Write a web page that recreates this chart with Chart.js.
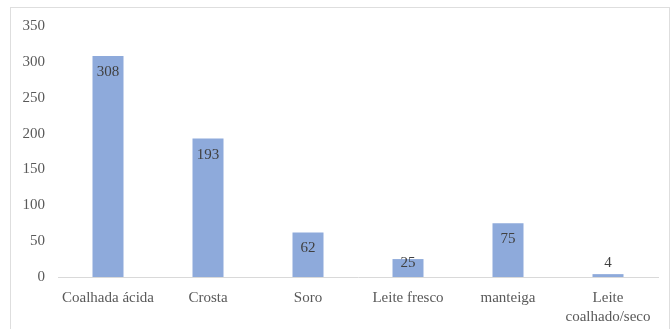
<!DOCTYPE html>
<html>
<head>
<meta charset="utf-8">
<script src="https://cdn.jsdelivr.net/npm/chart.js@4"></script>
<style>
  html, body { margin: 0; padding: 0; background: #fff; }
  #wrap { position: relative; width: 672px; height: 329px; }
  #frame { position: absolute; left: 10px; top: 7px; width: 660px; height: 330px; border: 1px solid #dedede; box-sizing: border-box; }
  #chart { position: absolute; left: 0; top: 0; }
</style>
</head>
<body>
<div id="wrap">
  <div id="frame"></div>
  <canvas id="chart" width="672" height="329"></canvas>
</div>
<script>
const categorias = ["Coalhada ácida", "Crosta", "Soro", "Leite fresco", "manteiga", ["Leite", "coalhado/seco"]];
const valores = [308, 193, 62, 25, 75, 4];
const yTicks = [0, 50, 100, 150, 200, 250, 300, 350];

const textColor = "#595959";
const fontFamily = "'Liberation Serif', serif";

// value labels at the inner end of each bar, pushed up when the bar is short
const valueLabels = {
    id: "valueLabels",
    afterDatasetsDraw(chart) {
        const ctx = chart.ctx;
        const meta = chart.getDatasetMeta(0);
        ctx.save();
        ctx.font = "15px " + fontFamily;
        ctx.fillStyle = "#404040";
        ctx.textAlign = "center";
        ctx.textBaseline = "middle";
        meta.data.forEach((bar, i) => {
            const y = Math.min(bar.y + 16, bar.base - 14);
            ctx.fillText(String(valores[i]), bar.x, y);
        });
        ctx.restore();
    }
};

new Chart(document.querySelector("#chart"), {
    type: "bar",
    data: {
        labels: categorias,
        datasets: [
            {
                data: valores,
                backgroundColor: "#8eaadb",
                barPercentage: 0.31,
                categoryPercentage: 1
            }
        ]
    },
    options: {
        responsive: false,
        animation: false,
        layout: { padding: { top: 26, right: 14, left: 0, bottom: 0 } },
        plugins: {
            legend: { display: false },
            tooltip: { enabled: false }
        },
        scales: {
            x: {
                grid: { display: false, drawTicks: false },
                border: { display: true, color: "#d9d9d9", width: 1 },
                ticks: {
                    color: textColor,
                    font: { family: fontFamily, size: 15, lineHeight: 1.3 },
                    padding: 11,
                    maxRotation: 0,
                    autoSkip: false
                },
                afterFit(scale) { scale.height = 52; }
            },
            y: {
                min: 0,
                max: 350,
                grid: { display: false, drawTicks: false },
                border: { display: false },
                afterBuildTicks(scale) { scale.ticks = yTicks.map(v => ({ value: v })); },
                ticks: {
                    color: textColor,
                    font: { family: fontFamily, size: 15 },
                    padding: 13
                },
                afterFit(scale) { scale.width = 58; }
            }
        }
    },
    plugins: [valueLabels]
});
</script>
</body>
</html>
